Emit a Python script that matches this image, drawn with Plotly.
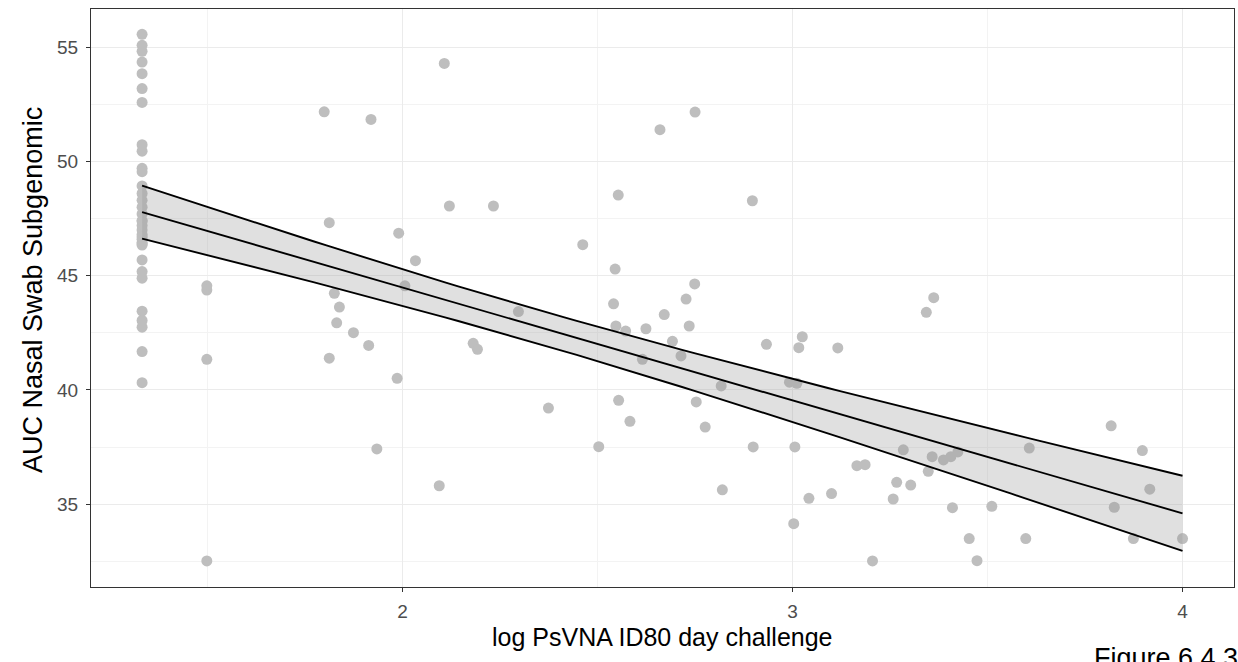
import numpy as np
import plotly.graph_objects as go

# ---- data ----
x_vals = (
    [1.332] * 34
    + [1.498, 1.498, 1.498, 1.498]
    + [1.799, 1.919, 1.812, 1.99, 1.825, 1.838, 2.006, 1.831, 1.874, 1.913, 1.812, 1.986, 1.934]
    + [2.107, 2.12, 2.233, 2.033, 2.297, 2.462, 2.553, 2.545, 2.541, 2.660, 2.750, 2.897,
       2.749, 2.727, 2.671, 2.547, 2.572, 2.624, 2.735, 2.692, 2.714, 2.615, 2.181, 2.192,
       2.374, 2.554, 2.583, 2.503, 2.094, 2.817, 2.753, 2.776, 2.933, 3.025, 3.016, 2.992,
       3.011, 2.899, 3.006, 2.820, 3.042, 3.003]
    + [3.362, 3.343, 3.116, 3.284, 3.358, 3.387, 3.406, 3.424, 3.165, 3.186, 3.348, 3.267,
       3.303, 3.100, 3.258, 3.410, 3.511, 3.205, 3.453, 3.473, 3.598, 3.607, 3.817, 3.897,
       3.916, 3.825, 3.874, 4.0]
)
y_vals = (
    [55.56, 55.08, 54.82, 54.35, 53.84, 53.19, 52.58, 50.73, 50.45, 49.70, 49.55, 48.93,
     48.60, 48.30, 48.00, 47.70, 47.40, 47.20, 47.00, 46.80, 46.60, 46.45, 47.40, 46.70,
     46.40, 46.34, 45.69, 45.18, 44.89, 43.45, 43.04, 42.75, 41.68, 40.32]
    + [44.56, 44.37, 41.34, 32.52]
    + [52.17, 51.84, 47.32, 46.86, 44.23, 43.63, 44.56, 42.94, 42.51, 41.95, 41.39, 40.51, 37.42]
    + [54.29, 48.05, 48.05, 45.66, 43.43, 46.36, 48.53, 45.29, 43.77, 51.39, 52.16, 48.28,
       44.64, 43.98, 43.30, 42.80, 42.58, 42.68, 42.80, 42.13, 41.49, 41.34, 42.04, 41.78,
       39.21, 39.55, 38.63, 37.52, 35.81, 40.18, 39.48, 38.38, 42.00, 42.33, 41.85, 40.34,
       40.29, 37.51, 37.51, 35.63, 35.26, 34.15]
    + [44.04, 43.40, 41.84, 37.38, 37.08, 36.94, 37.08, 37.29, 36.69, 36.73, 36.44, 35.96,
       35.84, 35.47, 35.23, 34.85, 34.91, 32.52, 33.50, 32.53, 33.50, 37.46, 38.43, 37.35,
       35.66, 34.87, 33.50, 33.50]
)

x_title = "log PsVNA ID80 day challenge"
y_title = "AUC Nasal Swab Subgenomic"
caption = "Figure 6.4.32"
x_ticks = [2, 3, 4]
y_ticks = [35, 40, 45, 50, 55]

# ---- linear fit with 95% confidence band (like geom_smooth(method="lm")) ----
x = np.array(x_vals)
y = np.array(y_vals)
n = len(x)
b1, b0 = np.polyfit(x, y, 1)
resid = y - (b0 + b1 * x)
s = np.sqrt(np.sum(resid ** 2) / (n - 2))
xm = x.mean()
sxx = np.sum((x - xm) ** 2)
xs = np.linspace(x.min(), x.max(), 80)
fit = b0 + b1 * xs
se = s * np.sqrt(1.0 / n + (xs - xm) ** 2 / sxx)
tq = 1.98
lo = fit - tq * se
hi = fit + tq * se

fig = go.Figure()
fig.add_trace(go.Scatter(x=x, y=y, mode="markers",
                         marker=dict(color="#BEBEBE", size=11, line=dict(width=0)),
                         showlegend=False, hoverinfo="x+y"))
fig.add_trace(go.Scatter(x=np.concatenate([xs, xs[::-1]]),
                         y=np.concatenate([hi, lo[::-1]]),
                         fill="toself", fillcolor="rgba(153,153,153,0.3)",
                         line=dict(width=0), mode="lines", showlegend=False, hoverinfo="skip"))
for yy in (fit, lo, hi):
    fig.add_trace(go.Scatter(x=xs, y=yy, mode="lines",
                             line=dict(color="black", width=1.9),
                             showlegend=False, hoverinfo="skip"))

font_family = "Liberation Sans, Arial, sans-serif"
axis_common = dict(
    showline=True, linecolor="#333333", linewidth=1.2, mirror=True,
    ticks="outside", ticklen=4, tickwidth=1.1, tickcolor="#333333",
    showgrid=True, gridcolor="#EBEBEB", gridwidth=1.1,
    zeroline=False,
    tickfont=dict(family=font_family, size=19, color="#4D4D4D"),
)
fig.update_layout(
    width=1238, height=662,
    margin=dict(l=91, r=4, t=9, b=75),
    plot_bgcolor="white", paper_bgcolor="white",
    font=dict(family=font_family),
    xaxis=dict(range=[1.201, 4.132], tickvals=x_ticks, ticklabelstandoff=3,
               minor=dict(showgrid=True, gridcolor="#F3F3F3", gridwidth=0.6,
                          tickvals=[1.5, 2.5, 3.5], ticks=""),
               **axis_common),
    yaxis=dict(range=[31.38, 56.67], tickvals=y_ticks, ticklabelstandoff=4,
               minor=dict(showgrid=True, gridcolor="#F3F3F3", gridwidth=0.6,
                          tickvals=[32.5, 37.5, 42.5, 47.5, 52.5], ticks=""),
               **axis_common),
    annotations=[
        dict(text=x_title, xref="paper", yref="paper", x=0.5, y=0,
             xanchor="center", yanchor="middle", yshift=-50, showarrow=False,
             font=dict(family=font_family, size=25, color="black")),
        dict(text=y_title, xref="paper", yref="paper", x=0, y=0.5, textangle=-90,
             xanchor="center", yanchor="middle", xshift=-58, yshift=8, showarrow=False,
             font=dict(family=font_family, size=27, color="black")),
        dict(text=caption, xref="paper", yref="paper", x=0.8758, y=0,
             xanchor="left", yanchor="top", yshift=-54, showarrow=False,
             font=dict(family=font_family, size=27, color="black")),
    ],
)
fig.write_html("out.html")
